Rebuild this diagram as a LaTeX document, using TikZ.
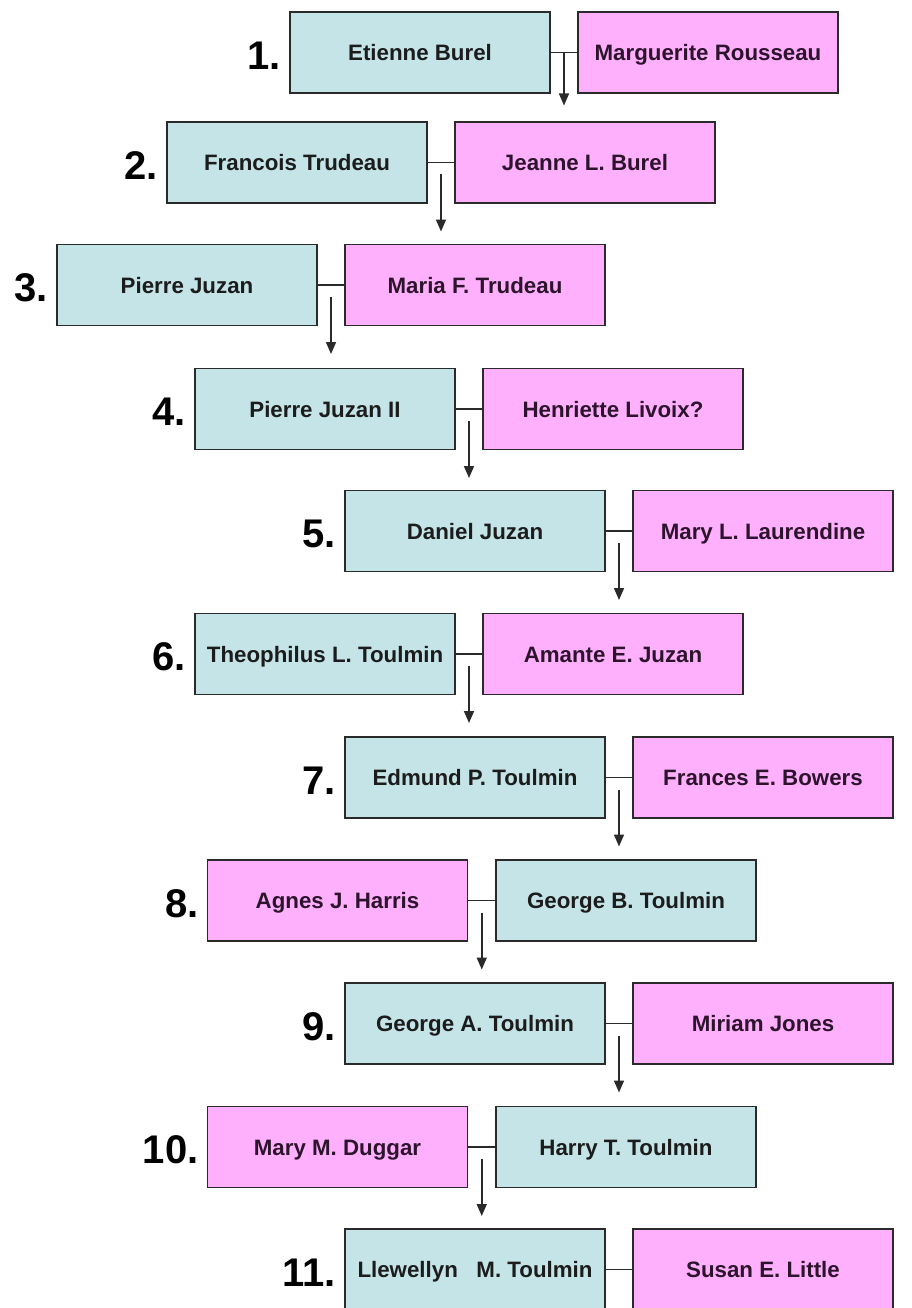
\documentclass[tikz,border=0pt]{standalone}
\usepackage{fontspec}
\setmainfont{Liberation Sans}
\usetikzlibrary{arrows.meta,positioning,calc}
\definecolor{bluebox}{HTML}{C4E4E7}
\definecolor{pinkbox}{HTML}{FFB0FC}
\definecolor{edge}{HTML}{2A2A2A}
\definecolor{mantext}{HTML}{1C1C1C}
\definecolor{womantext}{HTML}{2C142C}
\begin{document}
\begin{tikzpicture}[x=1pt,y=1pt,
  person/.style={draw=edge,line width=1.8pt,minimum width=260pt,minimum height=81pt,inner sep=0pt,
    text height=16pt,text depth=0pt,
    font=\fontsize{22.3}{26}\selectfont\bfseries},
  man/.style={person,fill=bluebox,text=mantext},
  woman/.style={person,fill=pinkbox,text=womantext},
  num/.style={font=\fontsize{40}{44}\selectfont\bfseries,inner sep=0pt,anchor=east},
  link/.style={draw=edge,line width=1.6pt},
  arr/.style={draw=edge,line width=1.6pt,-{Triangle[width=10pt,length=12pt]}}]
\useasboundingbox (0,0) rectangle (911,-1308);
% couples, row by row
\node[man]   (L1)  at (420,-52.5)   {Etienne Burel};
\node[woman] (R1)  at (708,-52.5)   {Marguerite Rousseau};
\node[man]   (L2)  at (297,-162.5)  {Francois Trudeau};
\node[woman] (R2)  at (585,-162.5)  {Jeanne L. Burel};
\node[man]   (L3)  at (187,-285)    {Pierre Juzan};
\node[woman] (R3)  at (475,-285)    {Maria F. Trudeau};
\node[man]   (L4)  at (325,-409)    {Pierre Juzan II};
\node[woman] (R4)  at (613,-409)    {Henriette Livoix?};
\node[man]   (L5)  at (475,-531)    {Daniel Juzan};
\node[woman] (R5)  at (763,-531)    {Mary L. Laurendine};
\node[man]   (L6)  at (325,-654)    {Theophilus L. Toulmin};
\node[woman] (R6)  at (613,-654)    {Amante E. Juzan};
\node[man]   (L7)  at (475,-777.5)  {Edmund P. Toulmin};
\node[woman] (R7)  at (763,-777.5)  {Frances E. Bowers};
\node[woman] (L8)  at (337.5,-900.5){Agnes J. Harris};
\node[man]   (R8)  at (626,-900.5)  {George B. Toulmin};
\node[man]   (L9)  at (475,-1023.5) {George A. Toulmin};
\node[woman] (R9)  at (763,-1023.5) {Miriam Jones};
\node[woman] (L10) at (337.5,-1147) {Mary M. Duggar};
\node[man]   (R10) at (626,-1147)   {Harry T. Toulmin};
\node[man]   (L11) at (475,-1269.5) {Llewellyn\ \ \ M. Toulmin};
\node[woman] (R11) at (763,-1269.5) {Susan E. Little};
% generation numbers
\foreach \i in {1,...,11}{
  \node[num] (n\i) at ([xshift=-8pt,yshift=-3pt]L\i.west) {\i.};
}
% couple links
\foreach \i in {1,...,11}{
  \draw[link] (L\i.east) -- (R\i.west);
  \coordinate (m\i) at ($(L\i.east)!0.5!(R\i.west)$);
}
% descent arrows
\coordinate (s1) at (m1);
\coordinate (t1) at ([yshift=-53pt]m1);
\draw[arr] (s1) -- (t1);
\foreach \i in {2,...,10}{
  \coordinate (s\i) at ([yshift=-12pt]m\i);
  \coordinate (t\i) at ([yshift=-69pt]m\i);
  \draw[arr] (s\i) -- (t\i);
}
\end{tikzpicture}
\end{document}
